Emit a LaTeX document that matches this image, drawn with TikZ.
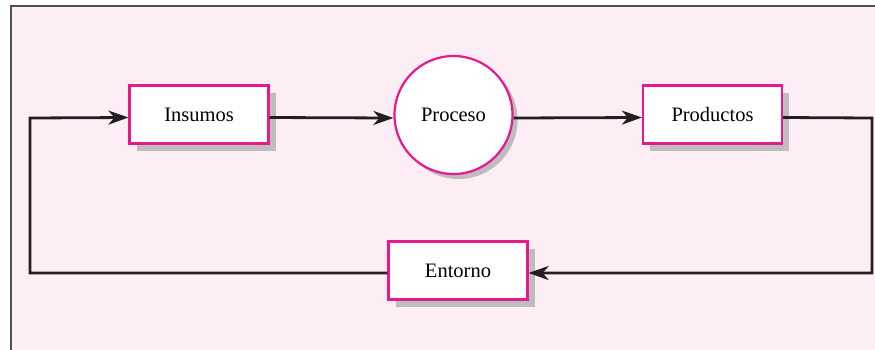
\documentclass[tikz,border=0pt]{standalone}
\usepackage{fontspec}
\setmainfont{Liberation Serif}
\usetikzlibrary{arrows.meta,shadows}
\definecolor{panel}{HTML}{FDEEF5}
\definecolor{frameline}{HTML}{505050}
\definecolor{magentaline}{HTML}{E8198B}
\definecolor{shade}{HTML}{BDBDBD}
\definecolor{ink}{HTML}{231F20}
\tikzset{
  stagebox/.style={draw=magentaline, line width=2.2pt, fill=white,
    minimum width=139pt, minimum height=58pt, inner sep=0pt,
    font=\fontsize{20.5}{24}\selectfont,
    drop shadow={shadow xshift=7pt, shadow yshift=-7pt, fill=shade, opacity=1}},
  stagecircle/.style={circle, draw=magentaline, line width=2.2pt, fill=white,
    minimum size=118pt, inner sep=0pt,
    font=\fontsize{20.5}{24}\selectfont,
    drop shadow={shadow xshift=5pt, shadow yshift=-5pt, fill=shade, opacity=1}},
  flow/.style={draw=ink, line width=2.8pt,
    -{Stealth[length=20pt, width=14pt, inset=6pt]}},
}
\begin{document}
\begin{tikzpicture}[x=1pt, y=-1pt]
  \useasboundingbox (0,0) rectangle (875,349);
  \clip (0,0) rectangle (875,349);
  % outer panel
  \draw[frameline, line width=2.2pt, fill=panel] (11,6) rectangle (890,370);

  \node[stagebox] (ins) at (199,114.5) {Insumos};
  \node[stagecircle] (proc) at (453.5,115) {Proceso};
  \node[stagebox] (prod) at (712.5,114.5) {Productos};
  \node[stagebox] (ent) at (458,270.5) {Entorno};

  \coordinate (ne) at (872,118);
  \coordinate (se) at (872,273);
  \coordinate (sw) at (30,273);
  \coordinate (nw) at (30,118);

  \draw[flow] ([yshift=-3pt]ins.east) -- ([yshift=-3pt]proc.west);
  \draw[flow] ([yshift=-3pt]proc.east) -- ([yshift=-3pt]prod.west);
  \draw[flow, line join=miter] ([yshift=-3pt]prod.east) -- (ne) -- (se) -- ([yshift=-2.5pt]ent.east);
  \draw[flow, line join=miter] ([yshift=-2.5pt]ent.west) -- (sw) -- (nw) -- ([yshift=-3pt]ins.west);
\end{tikzpicture}
\end{document}
